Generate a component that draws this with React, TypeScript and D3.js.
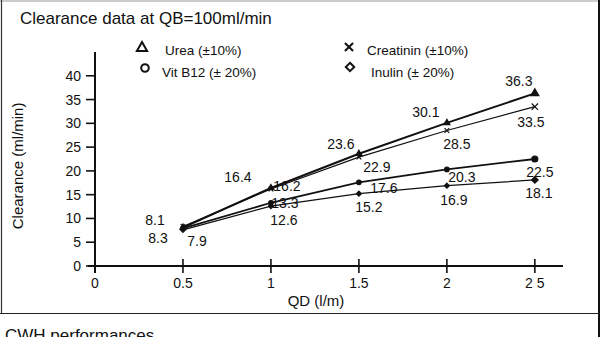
import React from 'react'
import * as d3 from 'd3'

// QD (l/min) values on the x axis
const qd = [0.5, 1, 1.5, 2, 2.5]

// clearance (ml/min) per solute
const urea = [8.1, 16.4, 23.6, 30.1, 36.3]
const creatinin = [8.3, 16.2, 22.9, 28.5, 33.5]
const vitB12 = [7.9, 13.3, 17.6, 20.3, 22.5]
const inulin = [7.6, 12.6, 15.2, 16.9, 18.1]

const xTicks = [0, 0.5, 1, 1.5, 2, 2.5]
const xTickLabels = ['0', '0.5', '1', '1.5', '2', '2 5']
const yTicks = [0, 5, 10, 15, 20, 25, 30, 35, 40]

// label offsets (px) next to each point, null = no label
const ureaOff: ([number, number] | null)[] = [[-28, -7], [-33, -11], [-18, -10], [-21, -11], [-16, -12]]
const creaOff: ([number, number] | null)[] = [[-25, 11], [16, -3], [18, 10], [10, 14], [-4, 15]]
const vitOff: ([number, number] | null)[] = [[14, 13], [14, 0], [25, 6], [15, 8], [5, 13]]
const inuOff: ([number, number] | null)[] = [null, [13, 14], [10, 13], [7, 14], [4, 13]]

const FONT = '"Liberation Sans", Arial, Helvetica, sans-serif'

export default function App() {
  const x = d3.scaleLinear().domain([0, 2.66]).range([95, 563])
  const y = d3.scaleLinear().domain([0, 45]).range([266, 52])

  const series = [
    { name: 'Urea', values: urea, off: ureaOff, width: 2, symbol: d3.symbolTriangle },
    { name: 'Creatinin', values: creatinin, off: creaOff, width: 1.2, symbol: d3.symbolX },
    { name: 'Vit B12', values: vitB12, off: vitOff, width: 1.8, symbol: d3.symbolCircle },
    { name: 'Inulin', values: inulin, off: inuOff, width: 1.3, symbol: d3.symbolDiamond2 },
  ]

  const line = d3.line<number>()
    .x((_, i) => x(qd[i]))
    .y(d => y(d))

  const sym = (type: d3.SymbolType, size: number) => d3.symbol().type(type).size(size)() || ''

  const legend = [
    { label: 'Urea (±10%)', symbol: d3.symbolTriangle, sx: 142, sy: 48, tx: 165, ty: 55, fill: 'none' },
    { label: 'Creatinin (±10%)', symbol: d3.symbolX, sx: 349, sy: 47, tx: 367, ty: 55, fill: 'none' },
    { label: 'Vit B12 (± 20%)', symbol: d3.symbolCircle, sx: 145, sy: 68, tx: 162, ty: 77, fill: 'none' },
    { label: 'Inulin (± 20%)', symbol: d3.symbolDiamond2, sx: 350, sy: 67, tx: 371, ty: 77, fill: 'none' },
  ]

  return (
    <div style={{ position: 'absolute', left: 0, top: 0 }}>
      <svg width={602} height={337} style={{ display: 'block', background: '#fff' }} fontFamily={FONT}>
        {/* frame */}
        <line x1={0} x2={600} y1={1} y2={1} stroke="#999" strokeWidth={1} />
        <line x1={1.5} x2={1.5} y1={0} y2={313} stroke="#333" strokeWidth={1.2} />
        <line x1={599} x2={599} y1={0} y2={337} stroke="#111" strokeWidth={2} />
        <line x1={0} x2={599} y1={313.5} y2={313.5} stroke="#222" strokeWidth={1.2} />

        <text x={20} y={24} fontSize={17} fill="#111">Clearance data at QB=100ml/min</text>
        <text x={5} y={341} fontSize={17} fill="#111">CWH performances</text>

        {/* legend */}
        {legend.map(l => (
          <g key={l.label}>
            <path d={sym(l.symbol, 45)} transform={`translate(${l.sx},${l.sy})`}
              fill={l.fill} stroke="#111" strokeWidth={2} />
            <text x={l.tx} y={l.ty} fontSize={13.5} fill="#111">{l.label}</text>
          </g>
        ))}

        {/* y axis */}
        <line x1={x(0)} x2={x(0)} y1={y(45)} y2={y(0) + 7} stroke="#111" strokeWidth={2} />
        {yTicks.map(t => (
          <g key={t}>
            <line x1={x(0) - 9} x2={x(0)} y1={y(t)} y2={y(t)} stroke="#111" strokeWidth={1.6} />
            <text x={81} y={y(t) + 5} textAnchor="end" fontSize={14} fill="#111">{t}</text>
          </g>
        ))}
        <text transform={`translate(23,${(y(0) + y(40)) / 2 - 5}) rotate(-90)`} textAnchor="middle"
          fontSize={15} fill="#111">Clearance (ml/min)</text>

        {/* x axis */}
        <line x1={x(0) - 7} x2={x(2.66)} y1={y(0)} y2={y(0)} stroke="#111" strokeWidth={2} />
        {xTicks.map((t, i) => (
          <g key={t}>
            <line x1={x(t)} x2={x(t)} y1={y(0) - 7} y2={y(0) + 7} stroke="#111" strokeWidth={1.6} />
            <text x={x(t)} y={288} textAnchor="middle" fontSize={14} fill="#111">{xTickLabels[i]}</text>
          </g>
        ))}
        <text x={316} y={306} textAnchor="middle" fontSize={15} fill="#111">QD (l/m)</text>

        {/* series */}
        {series.map(s => (
          <g key={s.name}>
            <path d={line(s.values) || ''} fill="none" stroke="#111" strokeWidth={s.width} />
            {s.values.map((v, i) => (
              <path key={i} d={sym(s.symbol, i === s.values.length - 1 ? 28 : 16)}
                transform={`translate(${x(qd[i])},${y(v)})`}
                fill={s.symbol === d3.symbolX ? 'none' : '#111'} stroke="#111" strokeWidth={1.2} />
            ))}
            {s.values.map((v, i) => {
              const o = s.off[i]
              if (!o) return null
              return (
                <text key={'t' + i} x={x(qd[i]) + o[0]} y={y(v) + o[1] + 5} textAnchor="middle"
                  fontSize={14} fill="#111">{v.toFixed(1)}</text>
              )
            })}
          </g>
        ))}
      </svg>
    </div>
  )
}
